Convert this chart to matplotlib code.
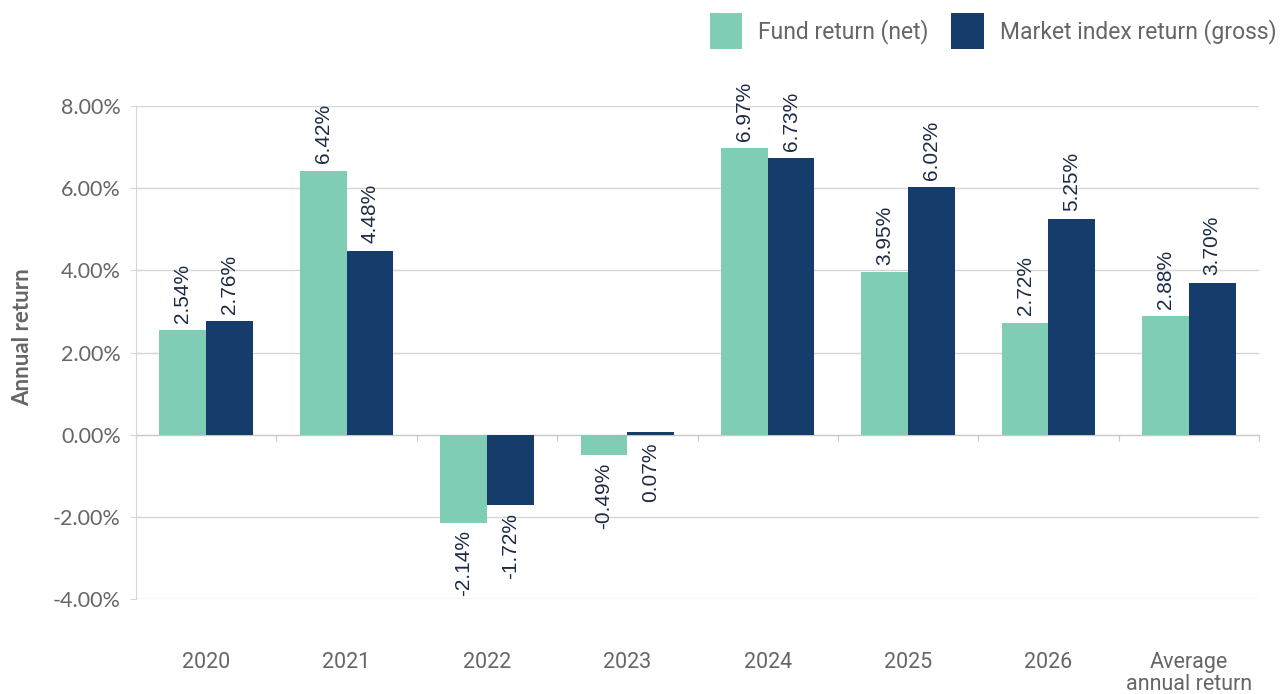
import matplotlib
matplotlib.use("Agg")
import matplotlib.pyplot as plt
import numpy as np
from matplotlib.ticker import FuncFormatter

categories = ["2020", "2021", "2022", "2023", "2024", "2025", "2026", "Average\nannual return"]
fund_net = [2.54, 6.42, -2.14, -0.49, 6.97, 3.95, 2.72, 2.88]
market_gross = [2.76, 4.48, -1.72, 0.07, 6.73, 6.02, 5.25, 3.70]
y_ticks = [-4, -2, 0, 2, 4, 6, 8]

FUND_C = "#80cdb5"
MKT_C = "#163c6c"
GRID_C = "#d6d6d6"
TXT_C = "#666666"
LBL_C = "#1c2a44"

fig = plt.figure(figsize=(12.82, 6.94), dpi=100)
ax = fig.add_axes([136/1282, 1-599/694, (1259-136)/1282, (599-106)/694])

x = np.arange(len(categories))
w = 1/3
b1 = ax.bar(x - w/2, fund_net, w, color=FUND_C, label="Fund return (net)", zorder=3)
b2 = ax.bar(x + w/2, market_gross, w, color=MKT_C, label="Market index return (gross)", zorder=3)

def add_labels(xs, vals):
    for xc, v in zip(xs, vals):
        above = v >= 0.5
        anchor = v if above else min(v, 0)
        ax.annotate(f"{v:.2f}%", xy=(xc, anchor), xytext=(0, 5.5 if above else -5.5),
                    textcoords="offset points", rotation=90, ha="center",
                    va="bottom" if above else "top", fontsize=15, color=LBL_C,
                    family="Liberation Sans", annotation_clip=False, zorder=5)

add_labels(x - w/2, fund_net)
add_labels(x + w/2, market_gross)

ax.set_xlim(-0.5, len(categories) - 0.5)
ax.set_ylim(-4, 8)
ax.set_yticks(y_ticks)
ax.yaxis.set_major_formatter(FuncFormatter(lambda v, p: f"{v:.2f}%"))
ax.grid(axis="y", color=GRID_C, linewidth=1, zorder=0)
ax.set_axisbelow(True)

for s in ("top", "right"):
    ax.spines[s].set_visible(False)
ax.spines["left"].set_color(GRID_C)
ax.spines["bottom"].set_position(("data", 0))
ax.spines["bottom"].set_color("#c8c8c8")
ax.spines["bottom"].set_zorder(2)

ax.set_xticks(np.arange(len(categories) + 1) - 0.5)
ax.set_xticklabels([])
ax.tick_params(axis="x", length=4, color="#c8c8c8", direction="out")
ax.tick_params(axis="y", length=4, color=GRID_C, pad=7, labelsize=15.5, labelcolor=TXT_C)
for t in ax.get_yticklabels():
    t.set_family("Lato")

sec = ax.secondary_xaxis(0.0)
sec.set_xticks(x)
sec.set_xticklabels(categories, fontsize=15.5, color=TXT_C, family="Roboto", linespacing=1.1)
sec.tick_params(length=0, pad=38)
sec.spines["bottom"].set_visible(False)
for t in sec.get_xticklabels():
    t.set_va("top")

ax.set_ylabel("Annual return", fontsize=16, color=TXT_C, family="Lato", fontweight="bold")
ax.yaxis.set_label_coords(-0.092, 0.531)

leg = fig.legend(loc="upper right", bbox_to_anchor=(1.008, 1.005), ncol=2, frameon=False,
                 handlelength=1.4, handleheight=2.1, columnspacing=1.0,
                 handletextpad=0.7, borderaxespad=0.3, prop={"family": "Roboto", "size": 16.5})
for t in leg.get_texts():
    t.set_color(TXT_C)

fig.savefig("out.png", dpi=100)
